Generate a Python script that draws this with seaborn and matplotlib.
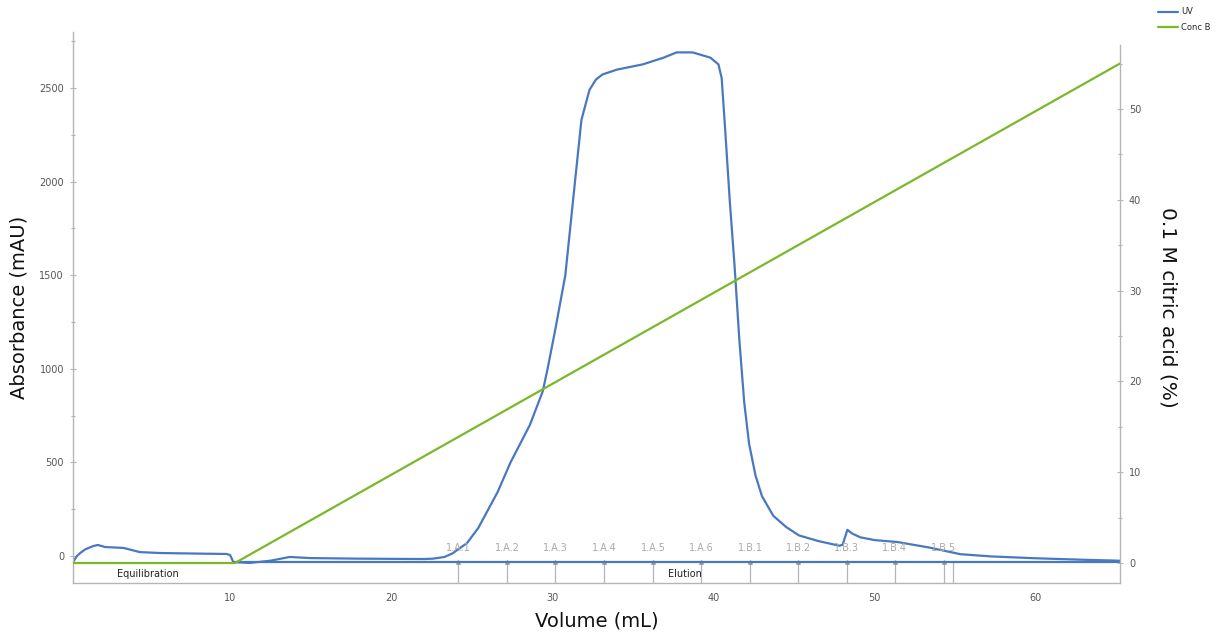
import matplotlib
matplotlib.use("Agg")
import matplotlib.pyplot as plt
import seaborn as sns
import pandas as pd
import numpy as np
from matplotlib.ticker import MultipleLocator

# ---- data ----
uv_volume = [0.26, 0.5, 0.7, 1.0, 1.5, 1.8, 2.25, 3.0, 3.4, 4.0, 4.4, 5.7, 8.0, 9.8,
             10.0, 10.06, 10.2, 11.2, 12.5, 13.7, 15.0, 18.0, 22.0, 22.6, 23.3, 23.8,
             24.3, 24.7, 25.4, 26.6, 27.4, 28.6, 29.4, 29.7, 30.2, 30.8, 31.4, 31.8,
             32.3, 32.7, 33.1, 34.0, 35.6, 36.9, 37.7, 38.7, 39.8, 40.3, 40.5, 40.7,
             41.0, 41.3, 41.6, 41.9, 42.2, 42.6, 43.0, 43.7, 44.5, 45.3, 46.5, 47.8,
             48.0, 48.3, 48.6, 49.1, 50.0, 51.4, 53.4, 55.3, 57.2, 60.0, 63.0, 65.2]
uv_mau = [-32, 0, 16, 35, 53, 59, 48, 45, 43, 30, 21, 16, 13, 11,
          5, -5, -32, -37, -25, -5, -11, -14, -16, -14, -5, 14,
          45, 69, 150, 342, 500, 700, 880, 1000, 1220, 1500, 2000, 2330,
          2490, 2545, 2572, 2598, 2626, 2662, 2690, 2690, 2662, 2626, 2553, 2300,
          1900, 1550, 1150, 820, 600, 430, 320, 215, 155, 110, 80, 55,
          60, 140, 120, 100, 85, 75, 45, 10, -2, -12, -20, -25]

baseline_volume = [10.2, 65.2]
baseline_mau = [-32, -32]

concb_volume = [0.26, 10.3, 65.2]
concb_pct = [0, 0, 55]

frac_labels = ["1.A.1", "1.A.2", "1.A.3", "1.A.4", "1.A.5", "1.A.6",
               "1.B.1", "1.B.2", "1.B.3", "1.B.4", "1.B.5", ""]
frac_volume = [24.15, 27.18, 30.17, 33.2, 36.24, 39.22,
               42.26, 45.24, 48.27, 51.25, 54.29, 54.85]

phase_labels = ["Equilibration", "Elution"]
phase_volume = [4.9, 38.2]

BLUE = "#4a78c0"
GREEN = "#7ab82a"
GREY = "#b5b5b5"
TXT = "#555555"

sns.set_style("white")
plt.rcParams['font.family'] = ['DejaVu Sans']

fig = plt.figure(figsize=(12.18, 6.35), dpi=100)
ax = fig.add_axes([0.06, 0.0819, 0.8595, 0.8677])
ax2 = ax.twinx()

uv = pd.DataFrame({"Volume": uv_volume, "UV": uv_mau})
base = pd.DataFrame({"Volume": baseline_volume, "UV": baseline_mau})
cb = pd.DataFrame({"Volume": concb_volume, "Conc": concb_pct})

sns.lineplot(data=base, x="Volume", y="UV", ax=ax, color=BLUE, lw=1.6, sort=False)
sns.lineplot(data=uv, x="Volume", y="UV", ax=ax, color=BLUE, lw=1.6, sort=False, label="UV")
sns.lineplot(data=cb, x="Volume", y="Conc", ax=ax2, color=GREEN, lw=1.6, sort=False, label="Conc B")

ax.set_xlim(0.26, 65.21)
ax.set_ylim(-144, 2799)
ax2.set_ylim(-2.2, 58.48)

# fraction markers
ax.vlines(frac_volume, -144, -32, color=GREY, lw=0.9, zorder=1)
ax.scatter(frac_volume[:-1], [-32] * (len(frac_volume) - 1), marker="^", s=6, color="#999999", zorder=1)
for xv, lab in zip(frac_volume, frac_labels):
    if lab:
        ax.text(xv, 18, lab, ha="center", va="bottom", fontsize=7, color="#aaaaaa")
for xv, lab in zip(phase_volume, phase_labels):
    ax.text(xv, -96, lab, ha="center", va="center", fontsize=7, color="#222222")

# spines and ticks
for a in (ax, ax2):
    a.spines["top"].set_visible(False)
    for s in ("left", "right", "bottom"):
        a.spines[s].set_color(GREY)
        a.spines[s].set_linewidth(1.0)
ax.spines["right"].set_visible(False)
ax2.spines["left"].set_visible(False)
ax2.spines["bottom"].set_visible(False)
ax2.spines["right"].set_bounds(-2.2, 57)

ax.xaxis.set_major_locator(MultipleLocator(10))
ax.xaxis.set_minor_locator(MultipleLocator(5))
ax.yaxis.set_major_locator(MultipleLocator(500))
ax.yaxis.set_minor_locator(MultipleLocator(250))
ax2.yaxis.set_major_locator(MultipleLocator(10))
ax2.yaxis.set_minor_locator(MultipleLocator(5))
ax.tick_params(axis="both", which="major", direction="inout", length=5, width=0.8,
               color=GREY, labelsize=7, labelcolor=TXT, pad=4)
ax.tick_params(axis="both", which="minor", direction="inout", length=3, width=0.8, color=GREY)
ax.tick_params(axis="x", which="major", pad=5)
ax2.tick_params(axis="y", which="major", direction="inout", length=5, width=0.8,
                color=GREY, labelsize=7, labelcolor=TXT, pad=4)
ax2.tick_params(axis="y", which="minor", direction="inout", length=3, width=0.8, color=GREY)

ax.set_xlabel("Volume (mL)", fontsize=14, color="#111111", labelpad=6)
ax.set_ylabel("Absorbance (mAU)", fontsize=14, color="#111111")
ax.yaxis.set_label_coords(-0.043, 0.5)
ax2.set_ylabel("0.1 M citric acid (%)", fontsize=14.5, color="#111111", rotation=270, labelpad=26)

# legend
h1, l1 = ax.get_legend_handles_labels()
h2, l2 = ax2.get_legend_handles_labels()
if ax.get_legend():
    ax.get_legend().remove()
if ax2.get_legend():
    ax2.get_legend().remove()
fig.legend(h1 + h2, l1 + l2, loc="upper right", bbox_to_anchor=(1.0, 1.0), frameon=False,
           fontsize=6, handlelength=2.5, labelspacing=0.8, handletextpad=0.3)

fig.savefig("out.png", dpi=100, facecolor="white")
